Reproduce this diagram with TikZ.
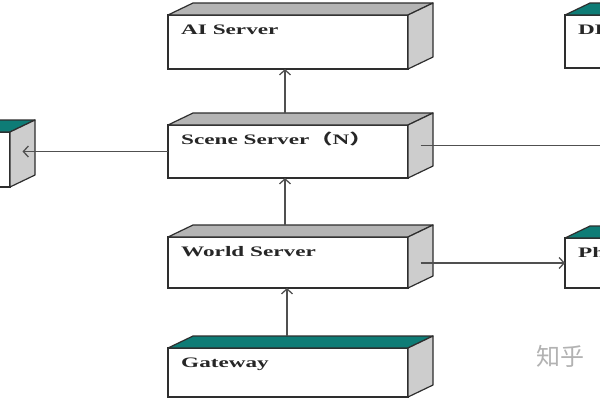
\documentclass[tikz,border=0pt]{standalone}
\usepackage{fontspec}
\setmainfont{Liberation Serif}
\newfontfamily\cjk{Noto Sans CJK SC}
\usetikzlibrary{calc,arrows.meta}
\definecolor{tealc}{HTML}{0E7C76}
\definecolor{topc}{HTML}{B4B4B4}
\definecolor{sidec}{HTML}{CDCDCD}
\definecolor{edgec}{HTML}{2E2E2E}
\definecolor{linec}{HTML}{505050}
\tikzset{
  frontface/.style={draw=edgec, line width=1.2pt, fill=white, rectangle, inner sep=0pt, outer sep=0pt},
  facebox/.style={draw=edgec, line width=1.2pt, line join=round},
  conn/.style={draw=linec, line width=1.3pt, -{Straight Barb[length=5pt,width=11pt]}},
  plainline/.style={draw=linec, line width=1.3pt},
  lbl/.style={anchor=base west, font=\bfseries\fontsize{14.5}{14.5}\selectfont, inner sep=0pt, text=black!85}
}
\newcommand{\cube}[7]{%
  \node[frontface, minimum width=#4pt, minimum height=#5pt, anchor=north west] (#1) at (#2,#3) {};
  \draw[facebox, fill=#6] (#1.north west) -- ++(25pt,12pt) -- ++(#4pt,0pt) -- (#1.north east) -- cycle;
  \draw[facebox, fill=sidec] (#1.north east) -- ++(25pt,12pt) -- ++(0pt,-#5pt) -- (#1.south east) -- cycle;
  \coordinate (#1-side) at ($(#1.east)+(12.5pt,6pt)$);
  \coordinate (#1-top) at ($(#1.north)+(-3pt,12pt)$);
  \node[lbl] (#1-label) at ($(#1.north west)+(13pt,-19pt)$) {\scalebox{1.6}[1]{#7}};
}
\begin{document}
\begin{tikzpicture}[x=1pt,y=-1pt]
  \useasboundingbox (0,0) rectangle (600,400);
  \clip (0,0) rectangle (600,400);
  \fill[white] (0,0) rectangle (600,400);

  \cube{ai}{168}{15}{240}{54}{topc}{AI Server}
  \cube{scene}{168}{125}{240}{53}{topc}{Scene Server{\cjk （}N{\cjk ）}}
  \cube{world}{168}{237}{240}{51}{topc}{World Server}
  \cube{gate}{168}{348}{240}{49}{tealc}{Gateway}
  \cube{left}{-230}{132}{240}{55}{tealc}{}
  \cube{db}{565}{15}{240}{53}{tealc}{DB}
  \cube{ph}{565}{238}{240}{50}{tealc}{Ph}

  \coordinate (rightend) at (600,145.5);

  \draw[conn] (scene-top) -- (scene-top |- ai.south);
  \draw[conn] (world-top) -- (world-top |- scene.south);
  \draw[conn] ([xshift=2pt]gate-top) -- ([xshift=2pt]gate-top |- world.south);
  \draw[conn] (scene.west) -- (left-side |- scene.west);
  \draw[plainline] (scene-side) -- (rightend);
  \draw[conn] (world-side |- ph.west) -- (ph.west);

  \node[font=\cjk\fontsize{24}{24}\selectfont, text=black!30, anchor=west, inner sep=0pt] (wm) at (536,356) {知乎};
\end{tikzpicture}
\end{document}
